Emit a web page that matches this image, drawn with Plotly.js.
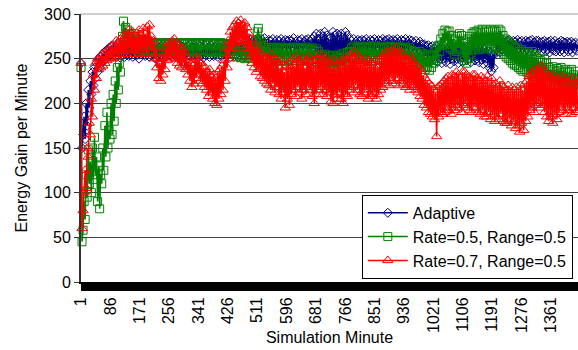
<!DOCTYPE html>
<html>
<head>
<meta charset="utf-8">
<script src="https://cdn.plot.ly/plotly-3.0.1.min.js"></script>
<style>
html,body{margin:0;padding:0;background:#fff;}
#chart{width:578px;height:350px;}
</style>
</head>
<body>
<div id="chart"></div>
<script>
// Sampled simulation minutes (every 3rd minute)
const minutes = [];
for (let i = 0; i < 480; i++) minutes.push(1 + 3 * i);

const tickLabels = ['1','86','171','256','341','426','511','596','681','766','851','936','1021','1106','1191','1276','1361'];

const seriesNames = ['Adaptive', 'Rate=0.5, Range=0.5', 'Rate=0.7, Range=0.5'];

const adaptive = [
245,150,165,185,160,200,175,215,195,225,
210,235,220,240,228,245,235,250,240,252,
245,255,248,258,250,260,252,262,254,264,
253,265,255,262,252,266,256,263,251,264,
255,266,252,263,256,267,253,262,255,265,
252,264,256,266,254,263,250,265,255,262,
256,266,253,264,255,267,252,263,256,265,
254,263,250,265,255,262,246,264,253,266,
255,264,252,266,256,263,254,265,252,264,
256,267,253,262,255,265,251,264,256,263,
242,262,250,264,254,266,252,263,255,265,
253,262,256,266,252,264,255,263,251,265,
254,266,256,263,252,265,255,262,253,264,
256,265,252,263,255,266,253,264,256,262,
254,265,256,263,252,266,255,264,253,265,
255,263,252,266,256,264,254,265,252,263,
258,270,262,272,260,269,263,271,261,270,
262,272,259,270,263,271,260,273,262,269,
261,271,263,270,260,272,262,269,264,271,
260,270,263,272,261,269,262,271,260,270,
263,271,261,270,262,273,260,269,263,271,
261,270,263,272,260,269,262,271,261,272,
262,270,259,272,261,275,256,278,254,272,
252,278,250,275,248,280,255,276,250,272,
246,274,252,280,248,276,254,278,250,274,
255,278,248,274,252,280,256,276,258,272,
260,270,262,272,259,269,263,271,260,270,
262,271,259,270,263,272,260,269,262,271,
261,270,263,272,260,269,262,271,261,270,
263,272,260,270,262,271,259,272,262,270,
260,271,263,270,261,272,262,269,260,271,
262,270,260,272,263,269,261,271,262,270,
259,268,261,270,258,267,260,269,257,266,
256,266,254,264,252,265,255,263,250,264,
248,262,252,264,246,260,250,263,245,261,
250,264,246,260,252,263,244,261,250,262,
247,263,250,261,245,264,251,260,246,262,
252,264,248,261,250,263,246,260,252,262,
248,262,250,264,246,261,249,263,244,260,
250,262,245,258,240,256,236,254,240,258,
256,268,258,270,257,269,260,271,258,268,
260,270,257,271,261,268,259,270,262,269,
258,271,261,269,259,270,262,268,258,270,
261,269,258,270,262,271,259,268,261,270,
259,270,262,268,258,269,261,270,259,268,
260,269,257,270,261,268,259,270,258,267,
261,268,258,270,260,269,257,268,261,269,
258,268,260,269,257,267,261,268,259,266
];

const rate05 = [
240,45,58,90,70,120,95,148,110,135,
100,150,115,162,120,140,90,130,82,120,
110,150,125,175,140,190,150,170,160,200,
165,210,180,225,200,240,215,245,235,262,
275,292,270,285,268,282,265,278,262,275,
265,278,262,275,260,272,258,270,260,268,
258,268,260,267,257,266,259,268,258,266,
260,267,257,268,259,266,258,267,260,268,
258,266,260,268,257,267,259,266,258,268,
259,267,258,268,260,266,257,267,259,268,
258,268,260,266,258,267,259,268,257,266,
260,267,258,268,259,266,257,268,260,267,
259,266,258,268,260,267,257,266,259,268,
258,267,260,266,257,268,259,267,258,266,
257,266,259,267,256,265,258,266,255,264,
252,262,254,263,251,261,253,262,250,261,
251,262,253,260,250,262,255,264,262,270,
280,284,272,265,268,258,265,255,262,252,
250,262,248,260,252,263,249,261,251,262,
248,261,252,263,250,260,248,262,251,261,
249,262,251,260,248,263,250,261,252,262,
250,261,248,262,251,260,249,263,250,261,
248,260,250,262,247,259,249,261,246,258,
242,254,238,252,240,255,237,250,241,253,
238,252,241,254,237,250,240,253,238,251,
240,254,242,256,238,252,244,257,246,258,
250,262,252,264,249,261,251,263,250,262,
252,264,249,262,251,263,248,261,252,264,
250,262,252,264,248,261,251,263,249,262,
251,263,249,261,252,264,250,262,248,263,
250,262,252,264,249,261,251,263,250,262,
248,261,250,263,247,260,249,262,246,259,
246,258,244,257,242,255,245,258,243,256,
240,254,238,252,241,255,237,253,240,254,
245,260,248,262,250,265,258,272,265,278,
268,282,270,280,266,281,262,276,260,272,
255,270,258,275,262,278,260,276,252,270,
248,268,245,272,250,275,255,278,260,280,
262,280,265,282,260,279,263,283,261,280,
264,282,262,280,265,283,260,281,263,282,
262,280,264,283,261,281,258,276,255,272,
252,270,250,268,248,266,245,264,243,262,
242,262,240,258,238,260,236,256,238,258,
235,256,232,254,234,258,230,252,233,255,
228,250,230,248,226,246,229,249,225,245,
222,240,220,238,224,241,218,236,221,239,
215,237,218,240,214,235,220,238,216,236,
212,235,215,238,210,232,216,236,212,228
];

const rate07 = [
245,60,80,100,125,105,150,140,178,165,
205,185,232,215,245,228,250,238,248,240,
255,242,252,245,258,248,260,250,262,252,
265,250,262,255,270,252,268,258,272,255,
275,258,270,255,278,260,282,262,272,258,
280,260,275,255,272,258,282,262,276,260,
284,262,278,255,286,265,288,262,275,258,
270,250,262,240,250,228,245,225,250,232,
255,238,262,248,268,252,265,250,270,255,
272,250,268,245,265,242,260,240,262,245,
258,238,252,232,248,225,245,218,242,222,
250,228,252,232,248,225,245,222,240,218,
240,215,235,208,238,212,230,205,232,200,
228,198,235,205,238,210,242,215,248,225,
262,240,270,250,280,258,285,262,288,265,
292,268,290,270,293,265,288,270,290,262,
285,258,278,252,272,245,265,240,262,235,
265,238,258,230,255,228,250,225,252,222,
252,220,248,215,255,222,245,212,250,218,
245,210,240,205,248,212,235,195,242,205,
245,198,240,210,250,215,242,208,252,218,
248,212,245,205,250,215,240,210,248,218,
252,215,245,208,248,200,242,210,250,215,
255,218,248,210,252,215,245,208,250,212,
245,202,240,200,248,210,238,205,245,212,
248,205,242,200,250,210,245,208,252,215,
255,218,250,212,258,220,248,215,252,210,
248,208,245,212,250,215,242,205,248,210,
245,208,242,212,248,205,240,210,246,215,
252,218,255,222,258,225,255,220,258,228,
260,225,258,222,262,228,255,220,258,225,
255,222,252,218,250,220,248,215,252,220,
248,218,245,215,242,212,240,208,238,205,
232,198,228,195,225,190,222,188,220,185,
215,182,212,163,218,185,220,190,222,188,
225,190,228,195,230,192,225,188,232,195,
230,192,235,198,232,195,228,190,235,198,
235,200,232,195,230,192,228,190,232,196,
232,195,228,190,225,188,230,192,228,185,
225,185,230,190,222,182,228,188,220,180,
222,185,218,182,225,188,220,180,218,178,
215,178,220,182,212,175,218,180,215,172,
218,175,212,168,220,178,215,170,222,180,
225,185,230,192,235,195,232,190,238,198,
240,200,235,195,242,198,238,190,235,185,
230,180,232,185,228,178,232,188,225,182,
228,190,225,195,230,192,222,188,228,195,
225,192,222,188,228,195,220,190,225,192
];

const FONT = 'Arial, "Liberation Sans", sans-serif';

const traces = [
  {x: minutes, y: adaptive, name: seriesNames[0], legendgroup: 'a', mode: 'lines+markers',
   line: {color: '#000080', width: 1.5},
   marker: {symbol: 'diamond-open', size: 7, color: '#000080', line: {width: 1, color: '#000080'}},
   cliponaxis: false},
  {x: minutes, y: rate05, name: seriesNames[1], legendgroup: 'b', mode: 'lines+markers',
   line: {color: '#008000', width: 1.5},
   marker: {symbol: 'square-open', size: 8, color: '#008000', line: {width: 1, color: '#008000'}},
   cliponaxis: false},
  {x: minutes, y: rate07, name: seriesNames[2], legendgroup: 'c', mode: 'lines+markers',
   line: {color: '#ff0000', width: 1.5},
   marker: {symbol: 'triangle-up-open', size: 9, color: '#ff0000', line: {width: 1, color: '#ff0000'}},
   cliponaxis: false}
];

const layout = {
  width: 578, height: 350,
  margin: {l: 81, r: 0, t: 14, b: 68, pad: 0},
  paper_bgcolor: '#ffffff', plot_bgcolor: '#ffffff',
  font: {family: FONT, size: 16, color: '#000'},
  showlegend: true,
  legend: {
    x: 0.565, y: 0.325, xanchor: 'left', yanchor: 'top',
    bgcolor: '#ffffff', bordercolor: '#000000', borderwidth: 1,
    font: {family: FONT, size: 16, color: '#000'},
    tracegroupgap: 0, itemwidth: 40
  },
  xaxis: {
    range: [1, 1439], autorange: false,
    tickmode: 'array', tickvals: tickLabels.map(Number), ticktext: tickLabels,
    tickangle: -90, ticks: 'outside', ticklen: 7, tickcolor: '#000', tickwidth: 1,
    minor: {tick0: 1, dtick: 1, ticks: 'outside', ticklen: 7, tickcolor: '#000', tickwidth: 1, showgrid: false},
    showgrid: false, zeroline: false,
    showline: true, linecolor: '#000', linewidth: 2,
    tickfont: {family: FONT, size: 16, color: '#000'},
    title: {text: 'Simulation Minute', font: {family: FONT, size: 16, color: '#000'}, standoff: 0},
    automargin: false
  },
  yaxis: {
    range: [0, 300], autorange: false, dtick: 50, tick0: 0,
    ticks: 'outside', ticklen: 5, tickcolor: '#333', tickwidth: 1,
    showgrid: true, gridcolor: '#404040', gridwidth: 1,
    zeroline: false, showline: true, linecolor: '#333', linewidth: 2,
    tickfont: {family: FONT, size: 16, color: '#000'},
    title: {text: 'Energy Gain per Minute', font: {family: FONT, size: 16, color: '#000'}, standoff: 12},
    automargin: false
  },
  shapes: [
    {type: 'line', xref: 'paper', yref: 'paper', x0: 0, x1: 1, y0: 1, y1: 1, line: {color: '#a0a0a0', width: 1}, layer: 'below'}
  ]
};

Plotly.newPlot('chart', traces, layout, {staticPlot: true, displayModeBar: false});
</script>
</body>
</html>
